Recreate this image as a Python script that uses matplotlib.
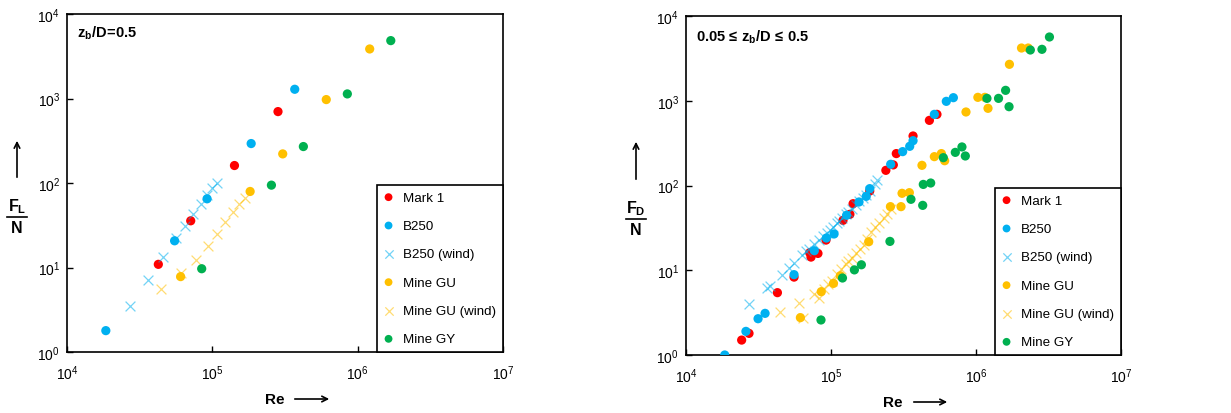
import numpy as np
import matplotlib
matplotlib.use("Agg")
import matplotlib.pyplot as plt

plt.rcParams['font.family'] = ['Liberation Sans', 'DejaVu Sans']
plt.rcParams['mathtext.fontset'] = 'custom'
plt.rcParams['mathtext.rm'] = 'Liberation Sans'
plt.rcParams['mathtext.it'] = 'Liberation Sans:italic'
plt.rcParams['mathtext.bf'] = 'Liberation Sans:bold'

# ---- left panel: lift, zb/D = 0.5 ----
L_mark1_re = [4.25e4, 7.1e4, 1.42e5, 2.83e5]
L_mark1_f = [10.9, 35.7, 161, 700]
L_b250_re = [1.85e4, 5.5e4, 9.2e4, 1.85e5, 3.69e5]
L_b250_f = [1.79, 20.7, 65, 293, 1286]
L_b250w_re = [2.71e4, 3.63e4, 4.6e4, 5.6e4, 6.46e4, 7.36e4, 8.3e4, 9.2e4, 1.0e5, 1.08e5]
L_b250w_f = [3.5, 7.2, 13.2, 22.5, 30.9, 42.8, 55.7, 72.5, 87.7, 101]
L_gu_re = [6.05e4, 1.82e5, 3.05e5, 6.08e5, 1.21e6]
L_gu_f = [7.8, 79.4, 221, 971, 3856]
L_guw_re = [4.46e4, 6.05e4, 7.73e4, 9.3e4, 1.07e5, 1.23e5, 1.38e5, 1.53e5, 1.69e5]
L_guw_f = [5.6, 8.67, 12.4, 18.2, 24.6, 34.4, 45.2, 56.7, 66.8]
L_gy_re = [8.45e4, 2.55e5, 4.23e5, 8.49e5, 1.69e6]
L_gy_f = [9.67, 94.3, 270, 1133, 4842]

# ---- right panel: drag, 0.05 <= zb/D <= 0.5 ----
R_mark1_re = [2.42e4, 2.72e4, 4.27e4, 5.56e4, 7.13e4, 7.28e4, 8.13e4, 9.24e4, 1.21e5,
              1.35e5, 1.42e5, 1.85e5, 2.39e5, 2.69e5, 2.82e5, 3.68e5, 4.77e5, 5.38e5]
R_mark1_f = [1.50, 1.80, 5.44, 8.3, 16.1, 14.3, 15.8, 22.7, 38.8,
             45.7, 61, 86, 151, 175, 238, 384, 587, 691]
R_b250_re = [1.85e4, 2.59e4, 3.14e4, 3.51e4, 5.56e4, 7.67e4, 9.29e4, 1.05e5, 1.28e5, 1.56e5,
             1.75e5, 1.85e5, 2.58e5, 3.12e5, 3.49e5, 3.68e5, 5.16e5, 6.24e5, 6.98e5]
R_b250_f = [1.0, 1.90, 2.68, 3.10, 8.87, 17.0, 24.0, 26.8, 44.5, 63.9,
            74.5, 91.8, 178, 251, 290, 338, 691, 984, 1087]
R_b250w_re = [2.70e4, 3.62e4, 3.82e4, 4.57e4, 5.13e4, 5.58e4, 6.31e4, 6.73e4, 7.10e4, 7.68e4,
              8.22e4, 8.77e4, 9.38e4, 9.89e4, 1.04e5, 1.10e5, 1.14e5, 1.19e5, 1.26e5, 1.32e5,
              1.40e5, 1.49e5, 1.57e5, 1.65e5, 1.74e5, 1.87e5, 2.00e5, 2.08e5]
R_b250w_f = [4.0, 6.2, 6.6, 8.9, 10.7, 12.3, 15.0, 16.7, 18.0, 20.6,
             22.8, 25.4, 27.3, 29.9, 32.7, 35.8, 38.1, 41.7, 45.7, 49.1,
             53.3, 58.9, 65.0, 70.6, 76.6, 86.1, 105, 115]
R_gu_re = [6.15e4, 8.57e4, 1.04e5, 1.16e5, 1.82e5, 2.57e5, 3.04e5, 3.09e5, 3.47e5, 4.24e5,
           5.16e5, 5.77e5, 6.08e5, 8.53e5, 1.03e6, 1.15e6, 1.21e6, 1.70e6, 2.06e6, 2.29e6]
R_gu_f = [2.76, 5.59, 7.0, 8.6, 21.7, 56.3, 56.3, 80.9, 82.3, 173,
          219, 238, 196, 737, 1097, 1097, 814, 2691, 4190, 4190]
R_guw_re = [4.48e4, 6.05e4, 6.38e4, 7.59e4, 8.31e4, 8.90e4, 9.53e4, 1.02e5, 1.10e5, 1.17e5,
            1.26e5, 1.32e5, 1.40e5, 1.49e5, 1.59e5, 1.68e5, 1.77e5, 1.90e5, 2.02e5, 2.15e5,
            2.31e5, 2.43e5, 2.61e5]
R_guw_f = [3.2, 4.15, 2.76, 5.2, 4.75, 5.96, 6.82, 7.47, 8.95, 10.3,
           11.7, 12.9, 14.1, 15.8, 18.0, 19.7, 23.2, 28.3, 32.4, 36.4,
           41.7, 46.5, 53.3]
R_gy_re = [8.53e4, 1.20e5, 1.45e5, 1.62e5, 2.55e5, 3.56e5, 4.29e5, 4.33e5, 4.87e5, 5.95e5,
           7.20e5, 8.00e5, 8.44e5, 1.19e6, 1.43e6, 1.60e6, 1.69e6, 2.37e6, 2.85e6, 3.21e6]
R_gy_f = [2.59, 8.1, 10.1, 11.6, 21.9, 68.7, 58.3, 103, 107, 213,
          246, 285, 223, 1067, 1067, 1327, 851, 3971, 4044, 5653]

labels = ['Mark 1', 'B250', 'B250 (wind)', 'Mine GU', 'Mine GU (wind)', 'Mine GY']
colors = ['#FF0000', '#00B0F0', '#00B0F0', '#FFC000', '#FFC000', '#00B050']
markers = ['o', 'o', 'x', 'o', 'x', 'o']

left_sets = [(L_mark1_re, L_mark1_f), (L_b250_re, L_b250_f), (L_b250w_re, L_b250w_f),
             (L_gu_re, L_gu_f), (L_guw_re, L_guw_f), (L_gy_re, L_gy_f)]
right_sets = [(R_mark1_re, R_mark1_f), (R_b250_re, R_b250_f), (R_b250w_re, R_b250w_f),
              (R_gu_re, R_gu_f), (R_guw_re, R_guw_f), (R_gy_re, R_gy_f)]

W, H = 1231, 414
fig = plt.figure(figsize=(W / 100, H / 100), dpi=100)
ax1 = fig.add_axes([67 / W, 1 - 353 / H, 436 / W, 338 / H])
ax2 = fig.add_axes([686 / W, 1 - 356 / H, 435 / W, 339 / H])


def draw(ax, sets):
    for (re, f), lab, c, m in zip(sets, labels, colors, markers):
        if m == 'x':
            ax.scatter(re, f, marker='x', s=50, color=c, alpha=0.55, linewidths=0.9,
                       label=lab, zorder=3)
        else:
            ax.scatter(re, f, marker='o', s=44, color=c, edgecolors='none', label=lab,
                       zorder=3)
    ax.set_xscale('log')
    ax.set_yscale('log')
    ax.set_xlim(1e4, 1e7)
    ax.set_ylim(1, 1e4)
    ax.minorticks_off()
    ax.tick_params(which='major', direction='in', length=4, width=1, labelsize=10,
                   color='black')
    ax.tick_params(axis='x', pad=8)
    ax.tick_params(axis='y', pad=5)
    for sp in ax.spines.values():
        sp.set_linewidth(1.2)
        sp.set_color('black')
    leg = ax.legend(loc='lower right', borderaxespad=0, fancybox=False, framealpha=1,
                    edgecolor='black', fontsize=9.6, handletextpad=0.7,
                    labelspacing=1.2, borderpad=0.5, handlelength=0.8,
                    markerscale=0.85)
    leg.get_frame().set_linewidth(1.2)


draw(ax1, left_sets)
draw(ax2, right_sets)

ax1.text(0.022, 0.945, r'$\mathbf{z_b/D\!=\!0.5}$', transform=ax1.transAxes,
         fontsize=10.5, va='center', ha='left')
ax2.text(0.022, 0.94, r'$\mathbf{0.05\,\leq\,z_b/D\,\leq\,0.5}$', transform=ax2.transAxes,
         fontsize=10.5, va='center', ha='left')

# axis labels with arrows (pixel positions of the reference layout)
def fx(px):
    return px / W


def fy(py):
    return 1 - py / H


for xr, xa0, xa1, yy in [(275, 292, 332, 400), (893, 911, 950, 403)]:
    fig.text(fx(xr), fy(yy), 'Re', fontsize=11, fontweight='bold', ha='center', va='center')
    fig.add_artist(matplotlib.patches.FancyArrowPatch(
        (fx(xa0), fy(yy)), (fx(xa1), fy(yy)), transform=fig.transFigure,
        arrowstyle='->', mutation_scale=10, linewidth=1.2, color='black'))

for xc, ya0, ya1, sub, ytop in [(17, 181, 139, 'L', 207), (636, 183, 140, 'D', 209)]:
    fig.add_artist(matplotlib.patches.FancyArrowPatch(
        (fx(xc), fy(ya0)), (fx(xc), fy(ya1)), transform=fig.transFigure,
        arrowstyle='->', mutation_scale=10, linewidth=1.2, color='black'))
    fig.text(fx(xc), fy(ytop), r'$\mathbf{F_{%s}}$' % sub, fontsize=11.5, ha='center',
             va='center')
    fig.add_artist(matplotlib.lines.Line2D([fx(xc - 10), fx(xc + 10)],
                                           [fy(ytop + 11), fy(ytop + 11)],
                                           transform=fig.transFigure, color='black',
                                           linewidth=1.2))
    fig.text(fx(xc), fy(ytop + 22), 'N', fontsize=11.5, fontweight='bold', ha='center',
             va='center')

fig.savefig('out.png', dpi=100)
